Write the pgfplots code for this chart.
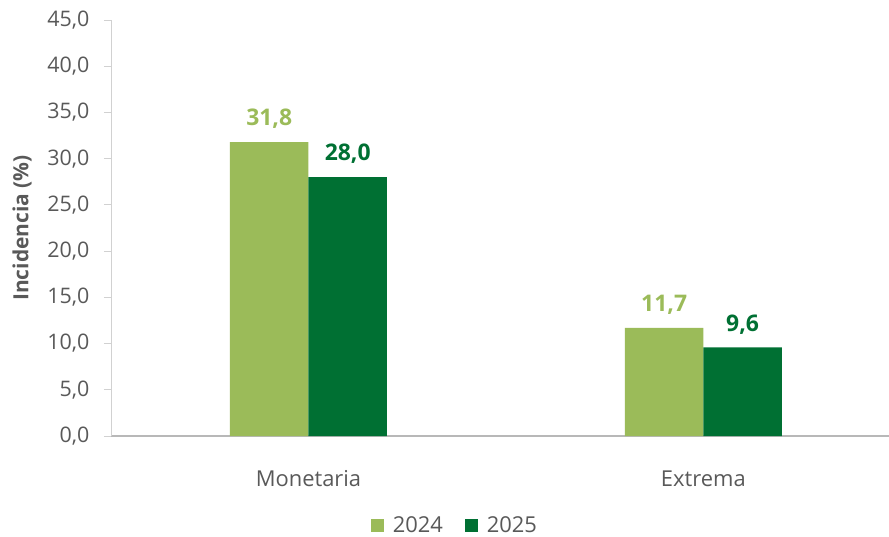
\documentclass[border=0pt]{standalone}
\usepackage{pgfplots}
\pgfplotsset{compat=1.18}
\usepackage{fontspec}
\setmainfont{Open Sans}
\definecolor{verdeclaro}{RGB}{155,187,89}
\definecolor{verdeoscuro}{RGB}{0,112,51}
\definecolor{textogris}{RGB}{89,89,89}

\begin{document}
\begin{tikzpicture}
\begin{axis}[
    name=ax,
    scale only axis,
    width=778bp, height=416bp,
    ybar=0pt,
    bar width=78.5bp,
    xmin=-0.5, xmax=1.47,
    ymin=0, ymax=45,
    ytick={0,5,...,45},
    xtick=data,
    xticklabels={Monetaria,Extrema},
    major x tick style={draw=none},
    y tick style={draw=black!18, line width=0.8pt},
    tick align=outside,
    major tick length=7bp,
    axis x line*=bottom,
    axis y line*=left,
    x axis line style={draw=black!28, line width=1.2pt, -},
    y axis line style={draw=black!18, line width=0.8pt, -},
    /pgf/number format/fixed,
    /pgf/number format/fixed zerofill,
    /pgf/number format/precision=1,
    /pgf/number format/use comma,
    /pgf/number format/assume math mode=true,
    ticklabel style={font=\fontsize{21.5}{23}\selectfont, text=textogris},
    yticklabel style={xshift=-11bp},
    xticklabel style={anchor=base, yshift=-43bp, font=\fontsize{22}{23}\selectfont},
    ylabel={Incidencia (\%)},
    every axis y label/.style={at={(axis description cs:-0.1144,0.5)}, rotate=90, anchor=center,
        font=\fontsize{21}{22}\selectfont\bfseries, text=textogris},
    nodes near coords,
    nodes near coords style={font=\fontsize{23}{24}\selectfont\bfseries, anchor=center, yshift=23bp,
        /pgf/number format/fixed,
        /pgf/number format/fixed zerofill,
        /pgf/number format/precision=1,
        /pgf/number format/use comma,
        /pgf/number format/assume math mode=true},
    legend style={at={(axis description cs:0.442,-0.214)}, anchor=center, draw=none,
        font=\fontsize{22}{23}\selectfont, text=textogris, legend columns=-1,
        inner sep=0pt,
        /tikz/every odd column/.append style={column sep=7bp},
        /tikz/every even column/.append style={column sep=20bp}},
    legend image code/.code={\draw[#1, draw=none] (0bp,-6.5bp) rectangle (13bp,6.5bp);},
    clip=false,
]
\addplot[fill=verdeclaro, draw=none, nodes near coords style={text=verdeclaro}] coordinates {(0,31.8) (1,11.7)};
\addplot[fill=verdeoscuro, draw=none, nodes near coords style={text=verdeoscuro}] coordinates {(0,28.0) (1,9.6)};
\legend{2024,2025}
\end{axis}
\pgfresetboundingbox
\path ([xshift=-111bp,yshift=-101bp]ax.south west) rectangle ([yshift=20bp]ax.north east);
\end{tikzpicture}
\end{document}
